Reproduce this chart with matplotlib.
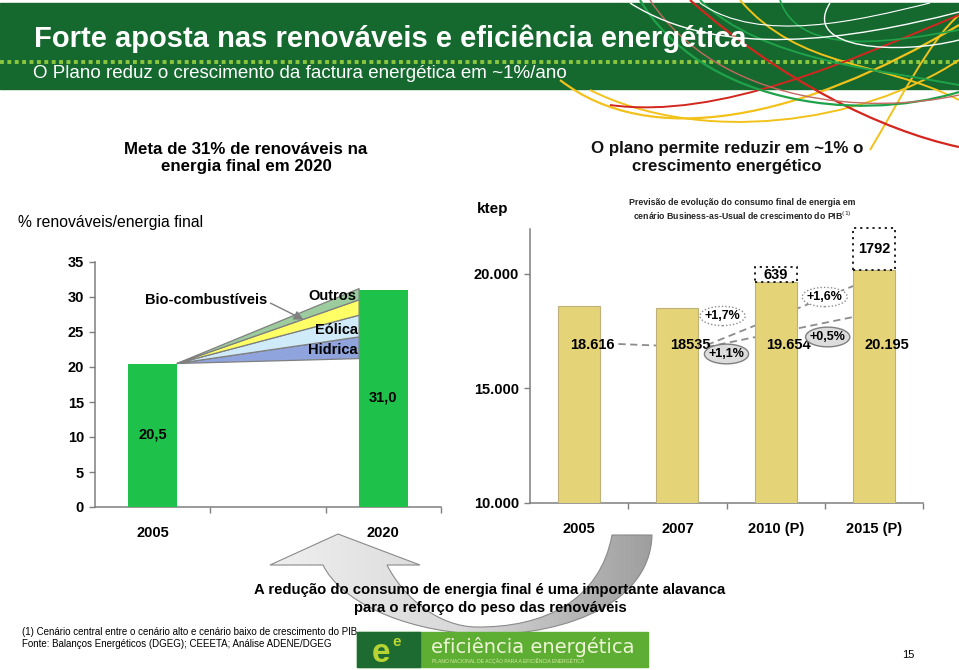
import numpy as np
import matplotlib.pyplot as plt
from matplotlib.patches import Rectangle, Ellipse, Polygon, PathPatch
from matplotlib.path import Path
from matplotlib.colors import LinearSegmentedColormap

plt.rcParams['font.family'] = ['Liberation Sans', 'DejaVu Sans']

W, H = 959, 670

# --- data: renewable share (left chart) ---
ren_years = ['2005', '2020']
ren_pos = [0, 2]
ren_share = [20.5, 31.0]
ren_labels = ['20,5', '31,0']
src_names = ['Hidrica', 'Eólica', 'Bio-combustíveis', 'Outros']
src_tops = [24.3, 27.4, 29.6, 31.2]   # cumulative level at 2020
src_base = 21.2
src_colors = ['#8FA4DD', '#CFEAF8', '#FFFF66', '#9CCB9E']

# --- data: final energy consumption (right chart) ---
cons_years = ['2005', '2007', '2010 (P)', '2015 (P)']
cons_values = [18616, 18535, 19654, 20195]
cons_labels = ['18.616', '18535', '19.654', '20.195']
bau_extra = [0, 0, 639, 1792]
growth_labels = ['+1,7%', '+1,1%', '+1,6%', '+0,5%']

fig = plt.figure(figsize=(W / 100, H / 100), dpi=100)

# background layer in pixel coordinates
bg = fig.add_axes([0, 0, 1, 1])
bg.set_xlim(0, W)
bg.set_ylim(H, 0)
bg.axis('off')

# header band
bg.add_patch(Rectangle((0, 3), W, 86, color='#15692F', zorder=1))
bg.plot([0, W], [62, 62], color='#8CC63F', lw=2.8, linestyle=(0, (1, 0.9)),
        solid_capstyle='butt', zorder=2)

# decorative curves
curves = [
    ('#F2C21B', 1.6, [(560, 80), (650, 150), (800, 120), (959, 25)]),
    ('#F2C21B', 1.4, [(590, 90), (700, 145), (860, 125), (959, 60)]),
    ('#F2C21B', 1.4, [(740, 0), (800, 70), (880, 60), (959, 100)]),
    ('#F2C21B', 1.4, [(870, 150), (900, 100), (930, 40), (959, 15)]),
    ('#D3261E', 1.6, [(690, 0), (780, 80), (880, 130), (959, 147)]),
    ('#D3261E', 1.4, [(610, 105), (720, 120), (850, 60), (959, 15)]),
    ('#1FA24A', 1.6, [(640, 0), (700, 100), (850, 125), (959, 92)]),
    ('#1FA24A', 1.4, [(700, 0), (760, 60), (880, 70), (959, 85)]),
    ('#1FA24A', 1.2, [(780, 0), (800, 60), (900, 40), (959, 30)]),
    ('#C46A5E', 1.0, [(650, 0), (720, 105), (870, 115), (959, 95)]),
    ('#FFFFFF', 1.0, [(630, 3), (720, 60), (850, 40), (959, 12)]),
    ('#FFFFFF', 1.0, [(830, 3), (800, 50), (900, 55), (959, 40)]),
    ('#FFFFFF', 0.8, [(700, 3), (760, 45), (860, 20), (930, 3)]),
]
for col, lw, pts in curves:
    p = Path(pts, [Path.MOVETO, Path.CURVE4, Path.CURVE4, Path.CURVE4])
    bg.add_patch(PathPatch(p, fc='none', ec=col, lw=lw, zorder=3))

bg.text(34, 39, 'Forte aposta nas renováveis e eficiência energética', color='white',
        fontsize=21, fontweight='bold', va='center', ha='left', zorder=4)
bg.text(33, 74, 'O Plano reduz o crescimento da factura energética em ~1%/ano', color='white',
        fontsize=13.5, va='center', ha='left', zorder=4)

# section headings
bg.text(246, 158, 'Meta de 31% de renováveis na\nenergia final em 2020', fontsize=12.2,
        fontweight='bold', ha='center', va='center', linespacing=1.25)
bg.text(727, 158, 'O plano permite reduzir em ~1% o\ncrescimento energético', fontsize=12.2,
        fontweight='bold', ha='center', va='center', linespacing=1.25, color='#111111')
bg.text(18, 222, '% renováveis/energia final', fontsize=11.3, ha='left', va='center')
bg.text(477, 209, 'ktep', fontsize=11, fontweight='bold', ha='left', va='center')
bg.text(742, 210, 'Previsão de evolução do consumo final de energia em\n'
        'cenário Business-as-Usual de crescimento do PIB$^{(1)}$', fontsize=6.3,
        fontweight='bold', ha='center', va='center', linespacing=1.3, color='#222222')

# curved arrow with gradient
verts = [(338, 534), (420, 565), (387, 565),
         (405, 600), (440, 626), (475, 627),
         (545, 628), (600, 600), (612, 535),
         (652, 535),
         (650, 612), (545, 638), (475, 634),
         (400, 630), (340, 600), (323, 565),
         (270, 565), (338, 534)]
codes = [Path.MOVETO, Path.LINETO, Path.LINETO,
         Path.CURVE4, Path.CURVE4, Path.CURVE4,
         Path.CURVE4, Path.CURVE4, Path.CURVE4,
         Path.LINETO,
         Path.CURVE4, Path.CURVE4, Path.CURVE4,
         Path.CURVE4, Path.CURVE4, Path.CURVE4,
         Path.LINETO, Path.CLOSEPOLY]
arrow = PathPatch(Path(verts, codes), fc='none', ec='#8A8A8A', lw=0.8, zorder=2)
bg.add_patch(arrow)
grad = np.linspace(0, 1, 256).reshape(1, -1)
cmap = LinearSegmentedColormap.from_list('g', ['#F0F0F0', '#D8D8D8', '#9C9C9C'])
im = bg.imshow(grad, extent=[265, 660, 640, 528], cmap=cmap, aspect='auto', zorder=1.5)
im.set_clip_path(arrow)
bg.set_xlim(0, W)
bg.set_ylim(H, 0)

bg.text(490, 599, 'A redução do consumo de energia final é uma importante alavanca\n'
        'para o reforço do peso das renováveis', fontsize=10.7, fontweight='bold',
        ha='center', va='center', linespacing=1.3, zorder=5)
bg.text(22, 638, '(1) Cenário central entre o cenário alto e cenário baixo de crescimento do PIB\n'
        'Fonte: Balanços Energéticos (DGEG); CEEETA; Análise ADENE/DGEG', fontsize=7,
        ha='left', va='center', linespacing=1.15, zorder=5)

# logo
bg.add_patch(Rectangle((357, 632), 291, 35, color='#5DAE33', zorder=5))
bg.add_patch(Rectangle((357, 632), 63, 35, color='#1D6B31', zorder=5))
bg.text(372, 653, 'e', fontsize=24, fontweight='bold', color='#B7D433', ha='left',
        va='center', zorder=6)
bg.text(392, 642, 'e', fontsize=11, fontweight='bold', color='#B7D433', ha='left',
        va='center', zorder=6)
bg.text(431, 647, 'eficiência energética', fontsize=14, color='#EEF5D6',
        family='DejaVu Sans', ha='left', va='center', zorder=6)
bg.text(432, 661, 'PLANO NACIONAL DE ACÇÃO PARA A EFICIÊNCIA ENERGÉTICA', fontsize=3.6,
        color='#D6EBA8', ha='left', va='center', zorder=6)
bg.text(908, 655, '15', fontsize=8, ha='center', va='center')

# ---------------- left chart ----------------
ax1 = fig.add_axes([95 / W, 1 - 507 / H, 346 / W, 245 / H])
ax1.patch.set_alpha(0)
ax1.bar(ren_pos, ren_share, width=0.42, color='#1EC24B', zorder=3)
bx0 = ren_pos[0] + 0.21
bx1 = ren_pos[1] - 0.21
lower = src_base
for name, top, col in zip(src_names, src_tops, src_colors):
    ax1.add_patch(Polygon([(bx0, ren_share[0]), (bx1, lower), (bx1, top)], closed=True,
                          fc=col, ec='#7F7F7F', lw=0.9, zorder=2))
    lower = top
ax1.text(-0.07, 29.6, 'Bio-combustíveis', fontsize=10.5, fontweight='bold', ha='left',
         va='center', zorder=4)
ax1.annotate('', xy=(1.33, 26.6), xytext=(1.0, 29.3),
             arrowprops=dict(arrowstyle='-|>', color='#7F7F7F', lw=1.0,
                             mutation_scale=14), zorder=4)
ax1.text(1.765, 30.1, 'Outros', fontsize=10.5, fontweight='bold', ha='right', va='center', zorder=4)
ax1.text(1.78, 25.3, 'Eólica', fontsize=10.5, fontweight='bold', ha='right', va='center', zorder=4)
ax1.text(1.78, 22.4, 'Hidrica', fontsize=10.5, fontweight='bold', ha='right', va='center', zorder=4)
for x, lab, yy in zip(ren_pos, ren_labels, [10.3, 15.6]):
    ax1.text(x, yy, lab, fontsize=10.5, fontweight='bold', ha='center', va='center', zorder=4)

ax1.set_xlim(-0.5, 2.5)
ax1.set_ylim(0, 35)
ax1.set_yticks(range(0, 36, 5))
ax1.set_xticks(ren_pos)
ax1.set_xticklabels(ren_years)
ax1.set_xticks([0.5, 1.5, 2.5], minor=True)
ax1.tick_params(axis='x', which='major', length=0, pad=14, labelsize=10.5)
ax1.tick_params(axis='x', which='minor', length=4, width=1, color='#7F7F7F')
ax1.tick_params(axis='y', length=4, width=1, color='#7F7F7F', pad=4, labelsize=10.5)
for s in ['top', 'right']:
    ax1.spines[s].set_visible(False)
for s in ['left', 'bottom']:
    ax1.spines[s].set_color('#7F7F7F')
    ax1.spines[s].set_linewidth(1.1)
for lab in ax1.get_xticklabels() + ax1.get_yticklabels():
    lab.set_fontweight('bold')

# ---------------- right chart ----------------
ax2 = fig.add_axes([530 / W, 1 - 503 / H, 393 / W, 274 / H])
ax2.patch.set_alpha(0)
xs = np.arange(len(cons_years))
ax2.bar(xs, cons_values, width=0.43, color='#E5D477', ec='#BFB07A', lw=0.8, zorder=3)
for x, v, e in zip(xs, cons_values, bau_extra):
    if e:
        ax2.bar(x, e, bottom=v, width=0.43, fill=False, ec='#111111', lw=1.3,
                linestyle=(0, (1.2, 2.2)), zorder=3, clip_on=False)
        ax2.text(x, v + e / 2, str(e), fontsize=10.5, fontweight='bold', ha='center',
                 va='center', zorder=4)
for x, lab in zip(xs, cons_labels):
    ax2.text(x + 0.13, 16900, lab, fontsize=10.5, fontweight='bold', ha='center',
             va='center', zorder=4)

dash = dict(color='#8C8C8C', lw=1.3, linestyle=(0, (4, 2.5)))
ax2.plot([0.40, 0.91], [16943, 16856], zorder=2, **dash)
ax2.plot([1.30, 2.79], [16900, 19476], zorder=2, **dash)
ax2.plot([1.30, 2.79], [16812, 18122], zorder=2, **dash)

ell_pos = [(1.46, 18166), (1.50, 16507), (2.50, 18996), (2.53, 17249)]
ell_fill = [False, True, False, True]
for (ex, ey), lab, filled in zip(ell_pos, growth_labels, ell_fill):
    if filled:
        e = Ellipse((ex, ey), 0.45, 860, fc='#DCDCDC', ec='#7F7F7F', lw=1.0, zorder=5)
    else:
        e = Ellipse((ex, ey), 0.46, 840, fc='white', ec='#8C8C8C', lw=1.0,
                    linestyle=(0, (1, 1.5)), zorder=5)
    ax2.add_patch(e)
    ax2.text(ex, ey, lab, fontsize=9, fontweight='bold', ha='center', va='center', zorder=6)

ax2.set_xlim(-0.5, 3.5)
ax2.set_ylim(10000, 21965)
ax2.set_yticks([10000, 15000, 20000])
ax2.set_yticklabels(['10.000', '15.000', '20.000'])
ax2.set_xticks(xs)
ax2.set_xticklabels(cons_years)
ax2.set_xticks([0.5, 1.5, 2.5, 3.5], minor=True)
ax2.tick_params(axis='x', which='major', length=0, pad=14, labelsize=10.5)
ax2.tick_params(axis='x', which='minor', length=4, width=1, color='#7F7F7F')
ax2.tick_params(axis='y', length=4, width=1, color='#7F7F7F', pad=4, labelsize=10.5)
for s in ['top', 'right']:
    ax2.spines[s].set_visible(False)
for s in ['left', 'bottom']:
    ax2.spines[s].set_color('#7F7F7F')
    ax2.spines[s].set_linewidth(1.1)
for lab in ax2.get_xticklabels() + ax2.get_yticklabels():
    lab.set_fontweight('bold')

fig.savefig('out.png', dpi=100)
